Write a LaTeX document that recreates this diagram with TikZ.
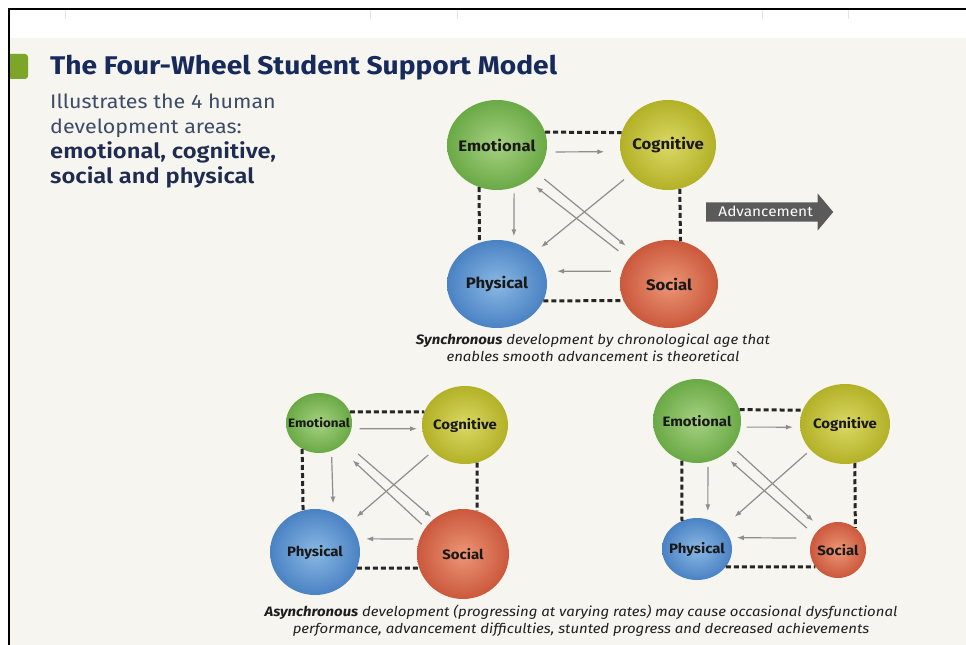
\documentclass[tikz,border=0pt]{standalone}
\usepackage{fontspec}
\setmainfont{Fira Sans}[FakeStretch=1.1]
\newfontfamily\semiboldfont{Fira Sans SemiBold}[FakeStretch=1.13]
\usetikzlibrary{arrows.meta}
\usetikzlibrary{shapes.geometric}
\usetikzlibrary{shapes.arrows}

\definecolor{cream}{HTML}{F6F5EF}
\definecolor{gridgrey}{HTML}{E4E4E4}
\definecolor{barleaf}{HTML}{7CA52A}
\definecolor{titlenavy}{HTML}{172A5C}
\definecolor{introslate}{HTML}{3E4B66}
\definecolor{intronavy}{HTML}{1F2C50}
\definecolor{emoin}{HTML}{A6D182}
\definecolor{emoout}{HTML}{6AA945}
\definecolor{cogin}{HTML}{DCD866}
\definecolor{cogout}{HTML}{B2B126}
\definecolor{phyin}{HTML}{8AB8E4}
\definecolor{phyout}{HTML}{4A82C3}
\definecolor{socin}{HTML}{EC9676}
\definecolor{socout}{HTML}{CB583C}
\definecolor{linkdark}{HTML}{262626}
\definecolor{flowgrey}{HTML}{8E8E8E}
\definecolor{advgrey}{HTML}{5A5A5A}

\tikzset{%
  wheeltext/.style={inner sep=0pt, text=black!90,
    font=\bfseries\fontsize{13.6bp}{15bp}\selectfont},
  wheel/.style={ellipse, inner sep=0pt, label={[wheeltext]center:#1}},
  bigwheel/.style={ellipse, inner sep=0pt,
    label={[wheeltext, font=\bfseries\fontsize{15.2bp}{17bp}\selectfont]center:#1}},
  smallwheel/.style={ellipse, inner sep=0pt,
    label={[wheeltext, font=\bfseries\fontsize{12.2bp}{13bp}\selectfont]center:#1}},
  emo/.style={inner color=emoin, outer color=emoout},
  cog/.style={inner color=cogin, outer color=cogout},
  phy/.style={inner color=phyin, outer color=phyout},
  soc/.style={inner color=socin, outer color=socout},
  link/.style={draw=linkdark, line width=3bp, dash pattern=on 5bp off 3bp},
  flow/.style={->, >={Latex[length=7bp,width=5bp]}, draw=flowgrey, line width=1.2bp},
  intro/.style={anchor=base west, inner sep=0pt, text=introslate,
    font=\fontsize{19.5bp}{25bp}\selectfont},
  introbold/.style={intro, text=intronavy,
    font=\semiboldfont\fontsize{21bp}{25bp}\selectfont},
  caption/.style={align=center, inner sep=0pt, text=black!88,
    font=\itshape\fontsize{13.6bp}{17bp}\selectfont},
  advarrow/.style={single arrow, fill=advgrey, text=white,
    single arrow head extend=9bp, single arrow tip angle=100,
    minimum height=127bp, text height=9bp, text depth=0bp,
    inner ysep=5bp, inner xsep=2bp,
    font=\fontsize{14bp}{15bp}\selectfont}
}

\begin{document}
\begin{tikzpicture}[x=1bp, y=-1bp]
  \useasboundingbox (0,0) rectangle (966,645);
  % page, panel and frame
  \fill[white] (0,0) rectangle (966,645);
  \fill[cream] (10,38) rectangle (966,645);
  \draw[gridgrey, line width=0.6bp] (65,10) -- (65,19) (370,10) -- (370,19)
    (457,10) -- (457,19) (762,10) -- (762,19) (848,10) -- (848,19);
  \fill[barleaf] (10,54) [rounded corners=3bp] -- (28,54) -- (28,79)
    [sharp corners] -- (10,79) -- cycle;
  \draw[black, line width=2.2bp] (9.3,645) -- (9.3,9.3) -- (966,9.3);

  % heading
  \node[anchor=base west, inner sep=0pt, text=titlenavy,
    font=\bfseries\fontsize{25.6bp}{30bp}\selectfont] (title) at (50,75)
    {The Four-Wheel Student Support Model};
  \node[intro] (intro1) at (50,109) {Illustrates the 4 human};
  \node[intro] (intro2) at (50,134) {development areas:};
  \node[introbold] (intro3) at (50,159) {emotional, cognitive,};
  \node[introbold] (intro4) at (50,184) {social and physical};

  % balanced wheels
  \node[bigwheel=Emotional, emo, minimum width=100bp, minimum height=90bp] (e1) at (497,145) {};
  \node[bigwheel=Cognitive, cog, minimum width=96bp, minimum height=90bp] (c1) at (668,145) {};
  \node[bigwheel=Physical, phy, minimum width=100bp, minimum height=88bp] (p1) at (497,284) {};
  \node[bigwheel=Social, soc, minimum width=98bp, minimum height=88bp] (s1) at (669,284) {};
  \draw[link] (e1.15) -- (c1.165);
  \draw[link] (e1.247) -- (p1.113);
  \draw[link] (c1.285) -- (s1.75);
  \draw[link] (p1.340) -- (s1.200);
  \draw[flow, shorten <=9bp, shorten >=16bp] (e1.352) -- (c1.188);
  \draw[flow, shorten <=6bp, shorten >=6bp] (e1.292) -- (p1.68);
  \draw[flow, shorten <=11bp, shorten >=12bp] (s1.165) -- (p1.15);
  \draw[flow, shorten <=9bp, shorten >=10bp] (c1.218) -- (p1.40);
  \draw[flow, shorten <=10bp, shorten >=11bp] (e1.325) -- (s1.138);
  \draw[flow, shorten <=13bp, shorten >=10bp] (s1.148) -- (e1.311);

  \node[advarrow, anchor=tail] (adv) at (706,212) {Advancement};

  \node[caption] (sync) at (593,348)
    {{\bfseries Synchronous} development by chronological age that\\
     enables smooth advancement is theoretical};

  % uneven wheels, left
  \node[smallwheel=Emotional, emo, minimum width=66bp, minimum height=60bp] (e2) at (319,423) {};
  \node[wheel=Cognitive, cog, minimum width=86bp, minimum height=78bp] (c2) at (465,425) {};
  \node[wheel=Physical, phy, minimum width=90bp, minimum height=86bp] (p2) at (315,552) {};
  \node[wheel=Social, soc, minimum width=92bp, minimum height=90bp] (s2) at (463,554) {};
  \draw[link] (e2.20) -- (c2.162);
  \draw[link] (e2.237) -- (p2.106);
  \draw[link] (c2.288) -- (s2.72);
  \draw[link] (p2.339) -- (s2.198);
  \draw[flow, shorten <=8bp, shorten >=5bp] (e2.350) -- (c2.185);
  \draw[flow, shorten <=6bp, shorten >=9bp] (e2.294) -- (p2.65);
  \draw[flow, shorten <=6bp, shorten >=8bp] (s2.161) -- (p2.17);
  \draw[flow, shorten <=6bp, shorten >=10bp] (c2.219) -- (p2.40);
  \draw[flow, shorten <=18bp, shorten >=3bp] (e2.323) -- (s2.130);
  \draw[flow, shorten <=5bp, shorten >=19bp] (s2.145) -- (e2.309);

  % uneven wheels, right
  \node[wheel=Emotional, emo, minimum width=88bp, minimum height=84bp] (e3) at (697,421) {};
  \node[wheel=Cognitive, cog, minimum width=90bp, minimum height=80bp] (c3) at (845,424) {};
  \node[wheel=Physical, phy, minimum width=70bp, minimum height=62bp] (p3) at (697,549) {};
  \node[wheel=Social, soc, minimum width=56bp, minimum height=56bp] (s3) at (838,550) {};
  \draw[link] (e3.15) -- (c3.162);
  \draw[link] (e3.249) -- (p3.118);
  \draw[link] (c3.284) -- (s3.52);
  \draw[link] (p3.328) -- (s3.217);
  \draw[flow, shorten <=6bp, shorten >=7bp] (e3.352) -- (c3.184);
  \draw[flow, shorten <=5bp, shorten >=8bp] (e3.285) -- (p3.70);
  \draw[flow, shorten <=16bp, shorten >=7bp] (s3.155) -- (p3.19);
  \draw[flow, shorten <=5bp, shorten >=16bp] (c3.217) -- (p3.40);
  \draw[flow, shorten <=7bp, shorten >=10bp] (e3.324) -- (s3.128);
  \draw[flow, shorten <=10bp, shorten >=9bp] (s3.147) -- (e3.308);

  \node[caption] (async) at (581,621)
    {{\bfseries Asynchronous} development (progressing at varying rates) may cause occasional dysfunctional\\
     performance, advancement difficulties, stunted progress and decreased achievements};
\end{tikzpicture}
\end{document}
